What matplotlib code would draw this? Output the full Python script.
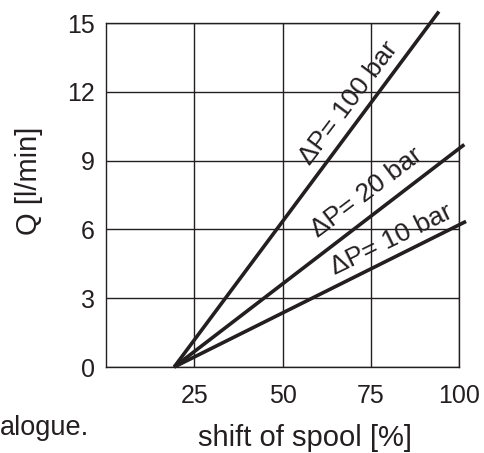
import matplotlib
matplotlib.use("Agg")
import matplotlib.pyplot as plt

plt.rcParams['font.family'] = ['Liberation Sans', 'DejaVu Sans']

# spool shift [%] -> flow [l/min], one straight line per pressure drop
shift_10 = [19.3, 102]
flow_10 = [0, 6.35]
shift_20 = [19.3, 101.5]
flow_20 = [0, 9.7]
shift_100 = [19.3, 94.3]
flow_100 = [0, 15.5]

x_ticks = [25, 50, 75, 100]
y_ticks = [0, 3, 6, 9, 12, 15]

ink = '#231f20'

fig = plt.figure(figsize=(4.85, 4.53), dpi=100)
ax = fig.add_axes([0.2186, 0.1898, 0.7278, 0.7594])

ax.set_xlim(0, 100)
ax.set_ylim(0, 15)
ax.set_xticks(x_ticks)
ax.set_yticks(y_ticks)
ax.tick_params(length=0, labelsize=18, colors=ink)
ax.tick_params(axis='x', pad=12)
ax.tick_params(axis='y', pad=8)
ax.grid(True, color=ink, lw=1.0)
ax.set_axisbelow(True)
for s in ax.spines.values():
    s.set_color(ink)
    s.set_linewidth(1.0)

for xs, ys in [(shift_10, flow_10), (shift_20, flow_20), (shift_100, flow_100)]:
    ax.plot(xs, ys, color=ink, lw=2.6, clip_on=False, solid_capstyle='butt', zorder=3)

ax.text(68.8, 11.5, "ΔP= 100 bar", rotation=53, fontsize=19, color=ink,
        ha='center', va='center', rotation_mode='anchor')
ax.text(74.0, 7.6, "ΔP= 20 bar", rotation=37, fontsize=19, color=ink,
        ha='center', va='center', rotation_mode='anchor')
ax.text(81.0, 5.55, "ΔP= 10 bar", rotation=26, fontsize=19, color=ink,
        ha='center', va='center', rotation_mode='anchor')

fig.text(0.629, 1 - 446 / 453, "shift of spool [%]", fontsize=21, color=ink,
         ha='center', va='baseline')
fig.text(0.06, 0.60, "Q [l/min]", fontsize=21, color=ink,
         ha='center', va='center', rotation=90)

fig.text(0.0, 1 - 435 / 453, "alogue.", fontsize=19.5, color=ink,
         ha='left', va='baseline')

fig.savefig("out.png", dpi=100)
